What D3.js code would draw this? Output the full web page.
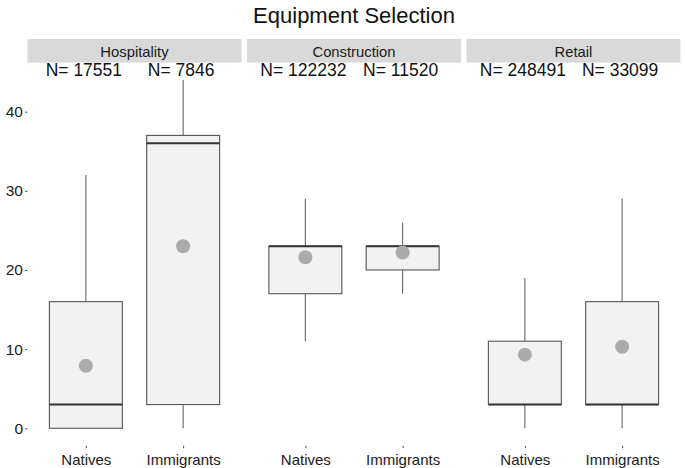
<!DOCTYPE html>
<html><head><meta charset="utf-8">
<script src="https://cdn.jsdelivr.net/npm/d3@7"></script>
<style>body{margin:0;background:#fff;} text{font-family:"Liberation Sans",Arial,sans-serif;}</style>
</head><body><svg id="c" width="685" height="468"></svg>
<script>
const panels = ["Hospitality","Construction","Retail"];
const groups = ["Natives","Immigrants"];
const nCounts = [[17551,7846],[122232,11520],[248491,33099]];
const whiskerLow = [[0,0],[11,17],[0,0]];
const q1 = [[0,3],[17,20],[3,3]];
const median = [[3,36],[23,23],[3,3]];
const q3 = [[16,37],[23,23],[11,16]];
const whiskerHigh = [[32,44],[29,26],[19,29]];
const means = [[7.9,23],[21.6,22.2],[9.3,10.3]];
const yTicks = [0,10,20,30,40];

(function(){
const svg = d3.select("#c");
const left = 27.5, pw = 214, gap = 5.5, plotTop = 62.6, plotBottom = 445.7;
const y = d3.scaleLinear().domain([-2.2,46.2]).range([plotBottom, plotTop]);

svg.append("text").attr("x",354).attr("y",23).attr("text-anchor","middle")
  .attr("font-size",22).attr("fill","#111").text("Equipment Selection");

const ya = svg.append("g").attr("transform",`translate(${left},0)`)
  .call(d3.axisLeft(y).tickValues(yTicks).tickSize(2.5).tickPadding(2));
ya.select(".domain").remove();
ya.selectAll("line").attr("stroke","#555");
ya.selectAll("text").attr("font-size",15.5).attr("fill","#1a1a1a").style("font-family","Liberation Sans, Arial, sans-serif");

panels.forEach((p,i)=>{
  const x0 = left + i*(pw+gap);
  const unit = pw/2.2;
  const bw = 0.75*unit;
  svg.append("rect").attr("x",x0).attr("y",39).attr("width",pw).attr("height",23.6).attr("fill","#d9d9d9");
  svg.append("text").attr("x",x0+pw/2).attr("y",56.5).attr("text-anchor","middle")
    .attr("font-size",14.8).attr("fill","#1a1a1a").text(p);
  const xs = d3.scalePoint().domain(groups).range([x0+0.6*unit, x0+1.6*unit]);
  const xa = svg.append("g").attr("transform",`translate(0,${plotBottom})`)
    .call(d3.axisBottom(xs).tickSize(2.5).tickPadding(6));
  xa.select(".domain").remove();
  xa.selectAll("line").attr("stroke","#555");
  xa.selectAll("text").attr("font-size",15).attr("fill","#1a1a1a").style("font-family","Liberation Sans, Arial, sans-serif");

  groups.forEach((g,j)=>{
    const c = xs(g);
    const gg = svg.append("g");
    gg.append("line").attr("x1",c).attr("x2",c).attr("y1",y(whiskerHigh[i][j])).attr("y2",y(q3[i][j]))
      .attr("stroke","#666").attr("stroke-width",1.1);
    gg.append("line").attr("x1",c).attr("x2",c).attr("y1",y(q1[i][j])).attr("y2",y(whiskerLow[i][j]))
      .attr("stroke","#666").attr("stroke-width",1.1);
    gg.append("rect").attr("x",c-bw/2).attr("y",y(q3[i][j])).attr("width",bw)
      .attr("height",Math.max(0,y(q1[i][j])-y(q3[i][j])))
      .attr("fill","#f2f2f2").attr("stroke","#555").attr("stroke-width",1.1);
    gg.append("line").attr("x1",c-bw/2).attr("x2",c+bw/2).attr("y1",y(median[i][j])).attr("y2",y(median[i][j]))
      .attr("stroke","#333").attr("stroke-width",2);
    gg.append("circle").attr("cx",c).attr("cy",y(means[i][j])).attr("r",7).attr("fill","#ababab");
    svg.append("text").attr("x",c-2).attr("y",75.5).attr("text-anchor","middle")
      .attr("font-size",17.5).attr("fill","#111").text("N= "+nCounts[i][j]);
  });
});
})();
</script></body></html>
